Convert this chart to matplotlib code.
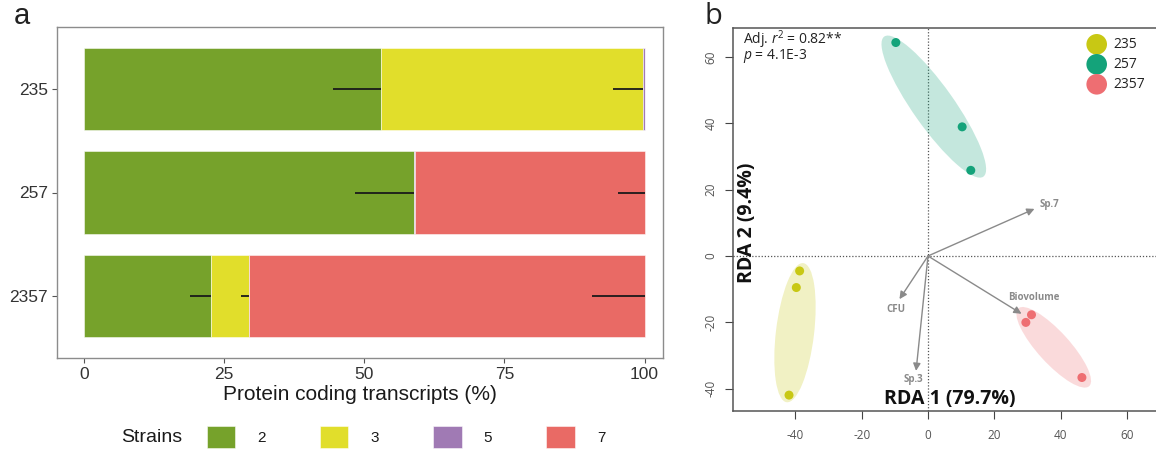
import matplotlib
matplotlib.use("Agg")
import matplotlib.pyplot as plt
from matplotlib.patches import Patch, Ellipse
from matplotlib import font_manager
import numpy as np

# ---------------- data: panel a ----------------
communities = ["235", "257", "2357"]
strains = ["2", "3", "5", "7"]
strain_colors = ["#76a22b", "#e1de2b", "#a07ab4", "#e96a65"]
share_2 = [53.0, 58.9, 22.7]
share_3 = [46.7, 0.0, 6.8]
share_5 = [0.3, 0.2, 0.0]
share_7 = [0.0, 40.9, 70.5]
sd_2 = [8.5, 10.5, 3.8]
sd_3 = [5.3, 0.0, 1.4]
sd_5 = [0.0, 0.0, 0.0]
sd_7 = [0.0, 4.7, 9.3]
x_ticks_a = [0, 25, 50, 75, 100]

# ---------------- data: panel b ----------------
groups = ["235", "257", "2357"]
group_colors = ["#c8c814", "#14a37a", "#ee6e72"]
pts_x_235 = [-38.7, -39.7, -41.9]
pts_y_235 = [-4.5, -9.5, -41.9]
pts_x_257 = [-9.7, 10.3, 12.9]
pts_y_257 = [64.3, 38.9, 25.8]
pts_x_2357 = [31.2, 29.5, 46.4]
pts_y_2357 = [-17.7, -20.0, -36.6]
# ellipses: centre x, centre y, length, width, angle
ell_235 = [-40.1, -23.1, 42.2, 11.5, 83.2]
ell_257 = [1.75, 45.0, 51.7, 12.4, -54.7]
ell_2357 = [37.9, -27.5, 31.7, 9.6, -47.6]
env_names = ["Sp.7", "CFU", "Sp.3", "Biovolume"]
env_x = [32.1, -8.6, -3.6, 28.2]
env_y = [14.2, -13.0, -34.6, -17.4]
env_lab_x = [36.6, -9.6, -4.4, 32.0]
env_lab_y = [15.6, -16.0, -37.3, -12.6]
ticks_b = [-40, -20, 0, 20, 40, 60]

# ---------------- fonts ----------------
installed = {f.name for f in font_manager.fontManager.ttflist}
narrow = "Liberation Sans Narrow" if "Liberation Sans Narrow" in installed else "Liberation Sans"
fam_a = [narrow, "DejaVu Sans"]
fam_b = ["Open Sans", "DejaVu Sans"]
plt.rcParams["mathtext.fontset"] = "custom"
plt.rcParams["mathtext.rm"] = "Open Sans"
plt.rcParams["mathtext.it"] = "Open Sans:italic"

W, H = 1156, 450
fig = plt.figure(figsize=(W / 100, H / 100), dpi=100)

def fx(px):
    return px / W

def fy(py):
    return 1 - py / H

# ================= panel a =================
axa = fig.add_axes([fx(57), fy(358), fx(663) - fx(57), fy(27) - fy(358)])
ypos = np.arange(1, len(communities) + 1)
shares = [share_2, share_3, share_5, share_7]
sds = [sd_2, sd_3, sd_5, sd_7]
left = np.zeros(len(communities))
for vals, col in zip(shares, strain_colors):
    vals = np.array(vals)
    axa.barh(ypos, vals, left=left, height=0.8, color=col,
             edgecolor=(1, 1, 1, 0.6), linewidth=0.6)
    left = left + vals
cum = np.zeros(len(communities))
for vals, sd in zip(shares, sds):
    vals = np.array(vals)
    cum = cum + vals
    for i in range(len(communities)):
        if vals[i] > 0 and sd[i] > 0:
            axa.hlines(ypos[i], cum[i] - sd[i], cum[i], color="#1a1a1a", lw=1.3, zorder=5)
axa.set_ylim(3.6, 0.4)
axa.set_xlim(-4.8, 103.3)
axa.set_yticks(ypos)
axa.set_yticklabels(communities, family=fam_a, fontsize=12.5, color="#333333")
axa.set_xticks(x_ticks_a)
axa.set_xticklabels([str(t) for t in x_ticks_a], family=fam_a, fontsize=12.5, color="#333333")
axa.tick_params(length=3.5, width=0.8, color="#555555", pad=3)
for s in axa.spines.values():
    s.set_color("#8c8c8c")
    s.set_linewidth(1.0)
axa.set_xlabel("Protein coding transcripts (%)", family=fam_a, fontsize=15,
               color="#1a1a1a", labelpad=2)

fig.text(fx(22), fy(16), "a", family=fam_a, fontsize=21, ha="center", va="center", color="#222222")

# legend for panel a
fig.text(fx(152), fy(437), "Strains", family=fam_a, fontsize=14, ha="center", va="center", color="#1a1a1a")
handles = [Patch(facecolor=c, edgecolor=(1, 1, 1, 0.6), linewidth=0.6) for c in strain_colors]
leg = fig.legend(handles, strains, loc="center left", bbox_to_anchor=(fx(207), fy(437)),
                 ncol=4, frameon=False, borderpad=0, borderaxespad=0,
                 handlelength=1.85, handleheight=1.85, handletextpad=1.45,
                 columnspacing=3.55, prop={"family": fam_a, "size": 11})
for t in leg.get_texts():
    t.set_color("#1a1a1a")

# ================= panel b =================
ax_left, ax_right, ax_top, ax_bot = 733, 1172, 28.3, 411
axb = fig.add_axes([fx(ax_left), fy(ax_bot), fx(ax_right) - fx(ax_left), fy(ax_top) - fy(ax_bot)])
x0_px, px_per_unit_x = 928, 3.317
y0_px, px_per_unit_y = 256, 3.32
axb.set_xlim((ax_left - x0_px) / px_per_unit_x, (ax_right - x0_px) / px_per_unit_x)
axb.set_ylim(-(ax_bot - y0_px) / px_per_unit_y, (y0_px - ax_top) / px_per_unit_y)

axb.axvline(0, color="#555555", lw=0.9, ls=(0, (1, 1.5)), zorder=1)
axb.axhline(0, color="#555555", lw=0.9, ls=(0, (1, 1.5)), zorder=1)

ells = [ell_235, ell_257, ell_2357]
pxs = [pts_x_235, pts_x_257, pts_x_2357]
pys = [pts_y_235, pts_y_257, pts_y_2357]
for e, col in zip(ells, group_colors):
    axb.add_patch(Ellipse((e[0], e[1]), e[2], e[3], angle=e[4], facecolor=col,
                          alpha=0.25, edgecolor="none", zorder=2))
for x, y, col in zip(pxs, pys, group_colors):
    axb.scatter(x, y, s=42, color=col, edgecolors="none", zorder=4)

for name, ex, ey, lx, ly in zip(env_names, env_x, env_y, env_lab_x, env_lab_y):
    axb.annotate("", xy=(ex, ey), xytext=(0, 0),
                 arrowprops=dict(arrowstyle="-|>", color="#8a8a8a", lw=1.0,
                                 mutation_scale=11, shrinkA=0, shrinkB=0), zorder=3)
    axb.text(lx, ly, name, family=fam_b, fontsize=7, fontweight="bold", color="#8a8a8a",
             ha="center", va="center", zorder=3)

axb.set_xticks(ticks_b)
axb.set_yticks(ticks_b)
axb.set_xticklabels([str(t) for t in ticks_b], family=fam_b, fontsize=8.5, color="#555555")
axb.set_yticklabels([str(t) for t in ticks_b], family=fam_b, fontsize=8.5, color="#555555",
                    rotation=90, va="center")
axb.tick_params(axis="x", length=6, width=0.8, color="#444444", pad=7)
axb.tick_params(axis="y", length=6, width=0.8, color="#444444", pad=5)
for s in axb.spines.values():
    s.set_color("#555555")
    s.set_linewidth(1.1)

# text inside panel b
axb.text(fx(950), fy(399), "RDA 1 (79.7%)", transform=fig.transFigure, family=fam_b,
         fontsize=14, fontweight="bold", ha="center", va="center", color="#111111", zorder=6)
axb.text(fx(747), fy(223), "RDA 2 (9.4%)", transform=fig.transFigure, family=fam_b,
         fontsize=14, fontweight="bold", ha="center", va="center", rotation=90,
         color="#111111", zorder=6)
fig.text(fx(743), fy(47), "Adj. $\\it{r}^{2}$ = 0.82**\n$\\it{p}$ = 4.1E-3", family=fam_b,
         fontsize=10, ha="left", va="center", color="#222222", linespacing=0.68)

# legend for panel b
leg_y = [44.3, 64.3, 84.3]
for g, col, yy in zip(groups, group_colors, leg_y):
    fig.text(fx(1113), fy(yy), g, family=fam_b, fontsize=10, ha="left", va="center", color="#222222")
    axb.scatter([(1096.7 - x0_px) / px_per_unit_x], [(y0_px - yy) / px_per_unit_y],
                s=220, color=col, edgecolors="none", zorder=5, clip_on=False)

fig.text(fx(713), fy(16), "b", family=fam_b, fontsize=21, ha="center", va="center", color="#222222")

fig.savefig("out.png", dpi=100)
